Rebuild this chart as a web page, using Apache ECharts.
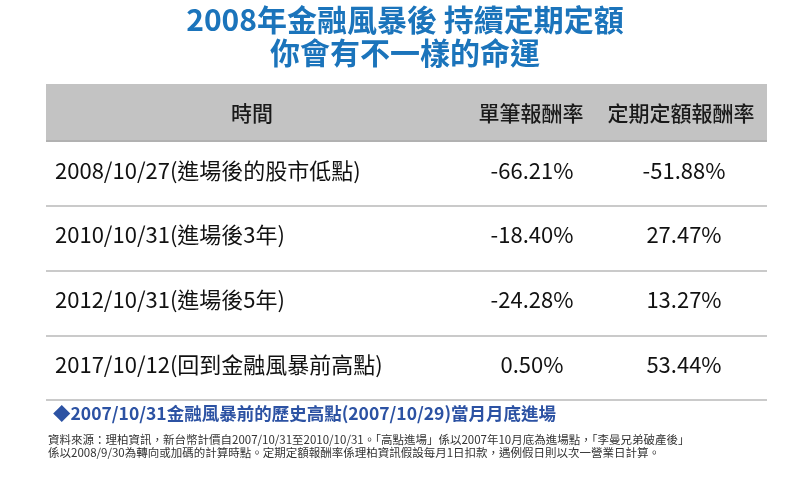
<!DOCTYPE html>
<html><head><meta charset="utf-8">
<script src="https://cdn.jsdelivr.net/npm/echarts@6/dist/echarts.min.js"></script>
<style>html,body{margin:0;padding:0;background:#fff}#c{width:810px;height:481px}</style>
</head><body><div id="c"></div>
<script>
const titleLines = ['2008年金融風暴後 持續定期定額', '你會有不一樣的命運'];
const headers = ['時間', '單筆報酬率', '定期定額報酬率'];
const periods = ['2008/10/27(進場後的股市低點)', '2010/10/31(進場後3年)', '2012/10/31(進場後5年)', '2017/10/12(回到金融風暴前高點)'];
const lumpSum = [-66.21, -18.40, -24.28, 0.50];
const dca = [-51.88, 27.47, 13.27, 53.44];
const noteLine = '◆2007/10/31金融風暴前的歷史高點(2007/10/29)當月月底進場';
const sourceLines = [
  '資料來源：理柏資訊，新台幣計價自2007/10/31至2010/10/31。「高點進場」係以2007年10月底為進場點，「李曼兄弟破產後」',
  '係以2008/9/30為轉向或加碼的計算時點。定期定額報酬率係理柏資訊假設每月1日扣款，遇例假日則以次一營業日計算。'
];

const FONT = '"Noto Sans CJK TC", "Noto Sans", sans-serif';
const GRID = {left: 46, right: 43, top: 141, bottom: 81};
const COL_X = [55, 532, 684];
const fmt = v => v.toFixed(2) + '%';

const chart = echarts.init(document.getElementById('c'), null, {renderer: 'canvas'});
chart.setOption({
  animation: false,
  backgroundColor: '#fff',
  grid: GRID,
  xAxis: {type: 'value', min: 0, max: 1, show: false},
  yAxis: {
    type: 'category', data: periods, inverse: true,
    axisLine: {show: false}, axisTick: {show: false}, axisLabel: {show: false},
    splitLine: {show: true, lineStyle: {color: '#b8b8b8', width: 1.5}}
  },
  graphic: [
    {type: 'text', left: 'center', top: 5, style: {text: titleLines[0], font: 'bold 30px ' + FONT, fill: '#1b74bb'}},
    {type: 'text', left: 'center', top: 38, style: {text: titleLines[1], font: 'bold 30px ' + FONT, fill: '#1b74bb'}},
    {type: 'rect', shape: {x: 46, y: 84, width: 721, height: 57}, style: {fill: '#c3c3c3'}},
    {type: 'line', shape: {x1: 46, y1: 141, x2: 767, y2: 141}, style: {stroke: '#9c9c9c', lineWidth: 2}},
    {type: 'text', x: 252, y: 113, style: {text: headers[0], font: '500 21px ' + FONT, fill: '#1a1a1a', textAlign: 'center', textVerticalAlign: 'middle'}},
    {type: 'text', x: 531, y: 113, style: {text: headers[1], font: '500 21px ' + FONT, fill: '#1a1a1a', textAlign: 'center', textVerticalAlign: 'middle'}},
    {type: 'text', x: 681, y: 113, style: {text: headers[2], font: '500 21px ' + FONT, fill: '#1a1a1a', textAlign: 'center', textVerticalAlign: 'middle'}},
    {type: 'text', x: 53, y: 405, style: {text: noteLine, font: 'bold 17.5px ' + FONT, fill: '#2c52a3'}},
    {type: 'text', x: 48, y: 434, style: {text: sourceLines[0], font: '11.5px ' + FONT, fill: '#333'}},
    {type: 'text', x: 48, y: 447, style: {text: sourceLines[1], font: '11.5px ' + FONT, fill: '#333'}}
  ],
  series: [{
    type: 'custom',
    coordinateSystem: 'cartesian2d',
    data: periods.map((p, i) => [0, i]),
    renderItem: function (params, api) {
      const i = api.value(1);
      const y = api.coord([0, i])[1] - 3;
      const base = {font: '22px ' + FONT, fill: '#111', textVerticalAlign: 'middle'};
      return {
        type: 'group',
        children: [
          {type: 'text', x: COL_X[0], y: y, style: Object.assign({}, base, {text: periods[i], textAlign: 'left'})},
          {type: 'text', x: COL_X[1], y: y, style: Object.assign({}, base, {text: fmt(lumpSum[i]), textAlign: 'center'})},
          {type: 'text', x: COL_X[2], y: y, style: Object.assign({}, base, {text: fmt(dca[i]), textAlign: 'center'})}
        ]
      };
    }
  }]
});
</script></body></html>
